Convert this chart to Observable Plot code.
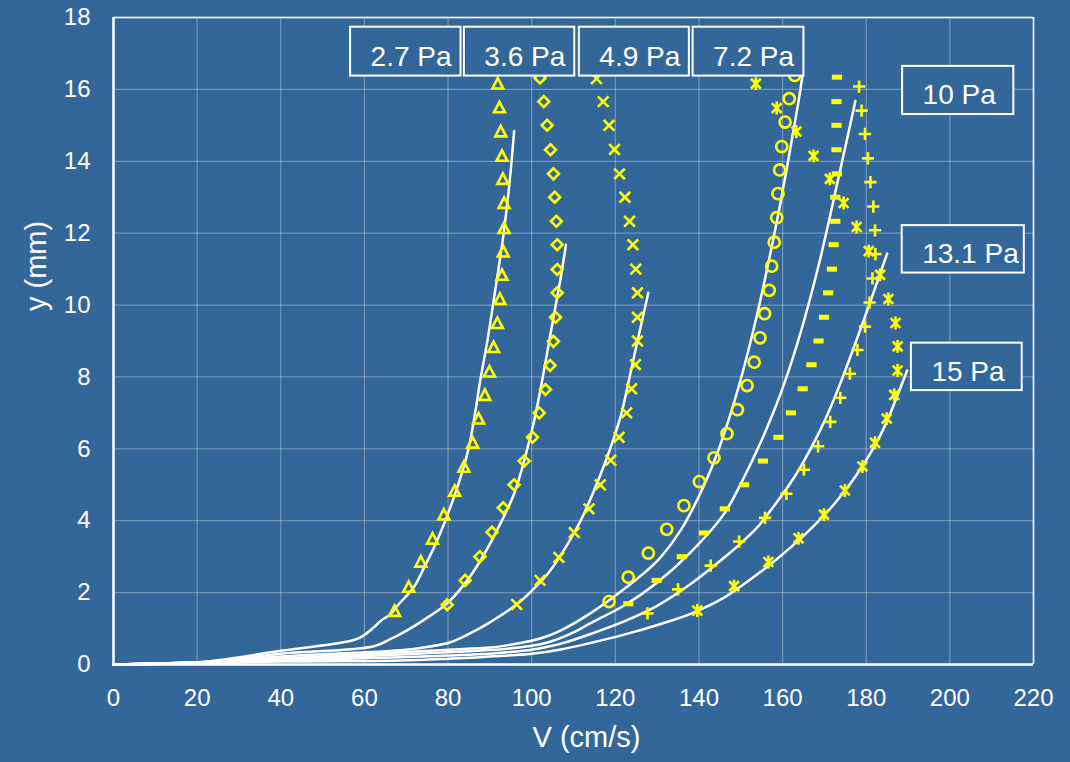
<!DOCTYPE html>
<html><head><meta charset="utf-8">
<script src="https://cdn.jsdelivr.net/npm/d3@7"></script>
<script src="https://cdn.jsdelivr.net/npm/@observablehq/plot@0.6"></script>
<style>html,body{margin:0;padding:0;background:#336699;overflow:hidden;}</style>
</head><body><div id="chart"></div>
<script>
const xTicks = [0,20,40,60,80,100,120,140,160,180,200,220];
const yTicks = [0,2,4,6,8,10,12,14,16,18];
const seriesNames = ["2.7 Pa","3.6 Pa","4.9 Pa","7.2 Pa","10 Pa","13.1 Pa","15 Pa"];

// measured points (V in cm/s, y in mm)
const v27 = [67.2,70.6,73.5,76.3,79.0,81.6,83.8,85.9,87.3,88.8,89.9,90.9,91.8,92.4,92.9,93.2,93.4,93.4,93.1,92.9,92.6,92.3,91.9];
const y27 = [1.47,2.14,2.84,3.48,4.15,4.81,5.48,6.15,6.82,7.48,8.13,8.81,9.48,10.15,10.82,11.47,12.12,12.82,13.49,14.13,14.81,15.48,16.14];
const v36 = [79.8,84.1,87.6,90.5,93.2,95.8,98.2,100.2,101.8,103.3,104.4,105.2,105.7,106.1,106.1,106.1,105.9,105.5,105.2,104.5,103.7,102.9,102.0];
const y36 = [1.66,2.34,3.0,3.68,4.36,5.0,5.66,6.32,7.0,7.65,8.32,8.99,9.66,10.34,10.99,11.68,12.33,13.0,13.65,14.32,15.0,15.66,16.32];
const v49 = [96.4,102.0,106.5,110.2,113.7,116.4,118.9,120.9,122.7,123.9,124.8,125.3,125.3,125.3,124.9,124.2,123.4,122.3,121.0,119.8,118.5,117.1,115.5];
const y49 = [1.67,2.34,2.98,3.67,4.33,5.0,5.68,6.32,7.0,7.67,8.34,9.0,9.66,10.34,11.0,11.68,12.33,13.0,13.65,14.33,15.0,15.66,16.3];
const v72 = [118.5,123.1,127.9,132.3,136.4,140.1,143.6,146.7,149.2,151.5,153.2,154.6,155.7,156.8,157.4,158.0,158.6,158.9,159.3,159.8,160.6,161.6,162.9];
const y72 = [1.75,2.43,3.1,3.76,4.42,5.09,5.75,6.42,7.09,7.76,8.41,9.09,9.76,10.41,11.08,11.75,12.43,13.1,13.76,14.41,15.09,15.74,16.39];
const v10 = [123.1,129.9,135.9,141.2,146.2,150.8,155.3,159.0,162.0,164.8,166.9,168.6,169.9,170.9,171.8,172.2,172.6,172.6,173.0,172.9,172.9,172.9,173.0];
const y10 = [1.69,2.34,3.0,3.66,4.33,5.0,5.66,6.32,7.0,7.67,8.34,9.0,9.66,10.34,11.0,11.68,12.33,13.0,13.65,14.32,15.0,15.66,16.34];
const v131 = [127.7,135.0,142.8,149.6,155.8,160.9,165.1,168.5,171.4,173.8,176.1,177.9,179.7,180.8,181.5,182.2,182.1,181.7,181.0,180.4,179.7,178.9,178.3];
const y131 = [1.42,2.09,2.75,3.42,4.08,4.75,5.42,6.07,6.75,7.42,8.09,8.75,9.4,10.07,10.74,11.42,12.08,12.74,13.42,14.08,14.76,15.41,16.08];
const v15 = [139.6,148.4,156.6,163.8,169.9,174.9,179.1,182.1,184.9,186.7,187.5,187.5,187.0,185.3,183.3,180.6,177.7,174.6,171.3,167.4,163.3,158.6,153.6];
const y15 = [1.5,2.18,2.85,3.51,4.17,4.84,5.51,6.17,6.84,7.5,8.18,8.85,9.5,10.17,10.84,11.5,12.17,12.84,13.51,14.15,14.83,15.48,16.16];

// model curves
const lv27 = [0,10,22,40,57.5,60,62.3,64,66.3,68,71.8,74.5,77.4,81.4,84.6,86.2,87.7,89.4,91.4,93.3,94.7,95.8];
const ly27 = [0,0.03,0.08,0.38,0.68,0.82,1.04,1.22,1.41,1.65,2.15,2.75,3.45,4.65,5.86,6.8,7.9,9.0,10.5,12.0,13.4,14.84];
const lv36 = [0,10,22,40,62.3,66.3,70.2,73.4,79.8,84,87.8,92,95.8,98.5,100.6,102.5,104.2,105.6,107.0,108.2];
const ly36 = [0,0.02,0.07,0.3,0.51,0.71,0.95,1.18,1.7,2.25,2.9,3.8,4.75,5.8,6.79,7.9,9.0,9.9,10.8,11.68];
const lv49 = [0,10,22,40,68.7,73.4,80.6,85,89.4,96.6,100,103.8,107,111.7,114.9,117.5,119.7,121.5,122.9,125.3,127.9];
const ly49 = [0,0.02,0.07,0.22,0.4,0.46,0.62,0.85,1.13,1.69,2.05,2.52,3.05,4.0,4.84,5.6,6.32,7.0,7.72,9.0,10.34];
const lv72 = [0,22,40,68.7,80,90,95,100,104,107,114.1,122.1,130.1,135.6,140.2,143.9,146.9,149.5,151.8,153.9,155.8,157.6,159.3,160.9,162.4,163.9,164.7];
const ly72 = [0,0.07,0.17,0.34,0.41,0.47,0.55,0.66,0.8,0.95,1.43,2.1,2.89,3.73,4.73,5.73,6.73,7.73,8.73,9.73,10.73,11.73,12.73,13.73,14.73,15.73,16.35];
const lv10 = [0,22,40,68.7,80,90,95,100,104,107,110.5,114.1,122.1,130.1,138,146,150.7,154.8,158.4,161.5,164.2,166.6,168.8,170.8,172.7,174.6,176.5,177.4];
const ly10 = [0,0.06,0.14,0.28,0.34,0.4,0.45,0.52,0.62,0.74,0.92,1.15,1.64,2.29,3.12,4.19,5.19,6.19,7.19,8.19,9.19,10.19,11.19,12.19,13.19,14.19,15.19,15.68];
const lv131 = [0,22,40,68.7,80,90,95,100,104,107,114.1,122.1,130.1,138,146,150,154,158,162,164.3,166.7,168.9,170.9,172.7,174.4,177.6,180.7,183.7,185.0];
const ly131 = [0,0.05,0.11,0.2,0.25,0.3,0.35,0.41,0.5,0.58,0.85,1.2,1.64,2.24,2.97,3.37,3.82,4.42,5.07,5.5,6.0,6.5,7.0,7.5,8.0,9.0,10.0,11.0,11.43];
const lv15 = [0,22,40,68.7,80,90,100,107,114.1,122.1,130.1,138,146,150.3,155,159.3,164.3,168.7,172.6,176,179,181.6,183.9,185.8,187.5,189.8];
const ly15 = [0,0.04,0.08,0.11,0.16,0.22,0.3,0.42,0.6,0.83,1.1,1.41,1.86,2.2,2.6,3.0,3.5,4.0,4.5,5.0,5.5,6.0,6.5,7.0,7.5,8.18];

// label boxes (data coordinates)
const labelX1 = [56.7,83.9,111.4,138.6,188.7,188.6,190.8];
const labelX2 = [83.1,110.3,137.7,165.1,215.3,217.8,217.3];
const labelYTop = [17.73,17.73,17.73,17.73,16.64,12.21,8.94];
const labelYBottom = [16.37,16.37,16.37,16.37,15.30,10.89,7.62];

const markerV = [v27,v36,v49,v72,v10,v131,v15];
const markerY = [y27,y36,y49,y72,y10,y131,y15];
const lineV = [lv27,lv36,lv49,lv72,lv10,lv131,lv15];
const lineY = [ly27,ly36,ly49,ly72,ly10,ly131,ly15];

const markers = seriesNames.map((s,i) => markerV[i].map((v,j) => ({series:s, V:v, y:markerY[i][j]})));
const lines = seriesNames.flatMap((s,i) => lineV[i].map((v,j) => ({series:s, V:v, y:lineY[i][j]})));
const labels = seriesNames.map((s,i) => ({text:s, x1:labelX1[i], x2:labelX2[i], y1:labelYBottom[i], y2:labelYTop[i]}));

const R0 = s => Math.sqrt(s/Math.PI);
const symTriangle = {draw(c,s){const R=R0(s); c.moveTo(0,-0.92*R); c.lineTo(0.8*R,0.62*R); c.lineTo(-0.8*R,0.62*R); c.closePath();}};
const symDiamond = {draw(c,s){const R=R0(s); const a=0.8*R; c.moveTo(0,-a); c.lineTo(a,0); c.lineTo(0,a); c.lineTo(-a,0); c.closePath();}};
const symTimes = {draw(c,s){const R=R0(s); const a=0.78*R; c.moveTo(-a,-a); c.lineTo(a,a); c.moveTo(-a,a); c.lineTo(a,-a);}};
const symCircle = {draw(c,s){const R=R0(s); const r=0.82*R; c.moveTo(r,0); c.arc(0,0,r,0,2*Math.PI);}};
const symDash = {draw(c,s){const R=R0(s); const w=0.75*R, h=0.37*R; c.rect(-w,-h,2*w,2*h);}};
const symPlus = {draw(c,s){const R=R0(s); const a=0.9*R; c.moveTo(-a,0); c.lineTo(a,0); c.moveTo(0,-a); c.lineTo(0,a);}};
const symAst = {draw(c,s){const R=R0(s); const a=0.72*R, b=0.95*R; c.moveTo(-a,-a); c.lineTo(a,a); c.moveTo(-a,a); c.lineTo(a,-a); c.moveTo(0,-b); c.lineTo(0,b);}};
const symbols = [symTriangle,symDiamond,symTimes,symCircle,symDash,symPlus,symAst];

const YEL = "#FFFF00";
const BG = "#336699";
const dotMarks = markers.map((rows,i) => i === 4
  ? Plot.dot(rows, {x:"V", y:"y", symbol:symbols[i], r:6.8, fill:YEL, stroke:"none"})
  : Plot.dot(rows, {x:"V", y:"y", symbol:symbols[i], r:6.8, fill:"none", stroke:YEL, strokeWidth:2.6}));

const chart = Plot.plot({
  width:1070, height:762,
  marginLeft:113, marginRight:37, marginTop:17, marginBottom:98,
  style:{background:BG, color:"white", fontFamily:"'Liberation Sans', Arial, sans-serif", fontSize:"24px"},
  x:{domain:[0,220]},
  y:{domain:[0,18]},
  marks:[
    Plot.gridX(xTicks, {stroke:"white", strokeOpacity:0.3, strokeWidth:1.3}),
    Plot.gridY(yTicks, {stroke:"white", strokeOpacity:0.3, strokeWidth:1.3}),
    Plot.axisX(xTicks, {tickSize:0, tickPadding:24, fontSize:24, label:null}),
    Plot.axisY(yTicks, {tickSize:0, tickPadding:23, fontSize:24, label:null}),
    Plot.ruleY([18], {stroke:"white", strokeWidth:1.5}),
    Plot.ruleX([220], {stroke:"white", strokeWidth:1.5}),
    Plot.line(lines, {x:"V", y:"y", z:"series", stroke:"white", strokeWidth:2.5, curve:"catmull-rom"}),
    ...dotMarks,
    Plot.ruleX([0], {stroke:"white", strokeWidth:2.5}),
    Plot.ruleY([0], {stroke:"white", strokeWidth:2.5}),
    Plot.rect(labels, {x1:"x1", x2:"x2", y1:"y1", y2:"y2", fill:BG, stroke:"white", strokeWidth:2}),
    Plot.text(labels, {x:"x1", y:d => (d.y1+d.y2)/2, text:"text", textAnchor:"start", dx:20, dy:5, fontSize:28, fill:"white"}),
    Plot.text(["V (cm/s)"], {frameAnchor:"bottom", dx:13, dy:82, fontSize:29, fill:"white"}),
    Plot.text(["y (mm)"], {frameAnchor:"left", dx:-77, dy:-30, rotate:-90, fontSize:29, fill:"white"})
  ]
});
document.getElementById("chart").appendChild(chart);
</script>
</body></html>
